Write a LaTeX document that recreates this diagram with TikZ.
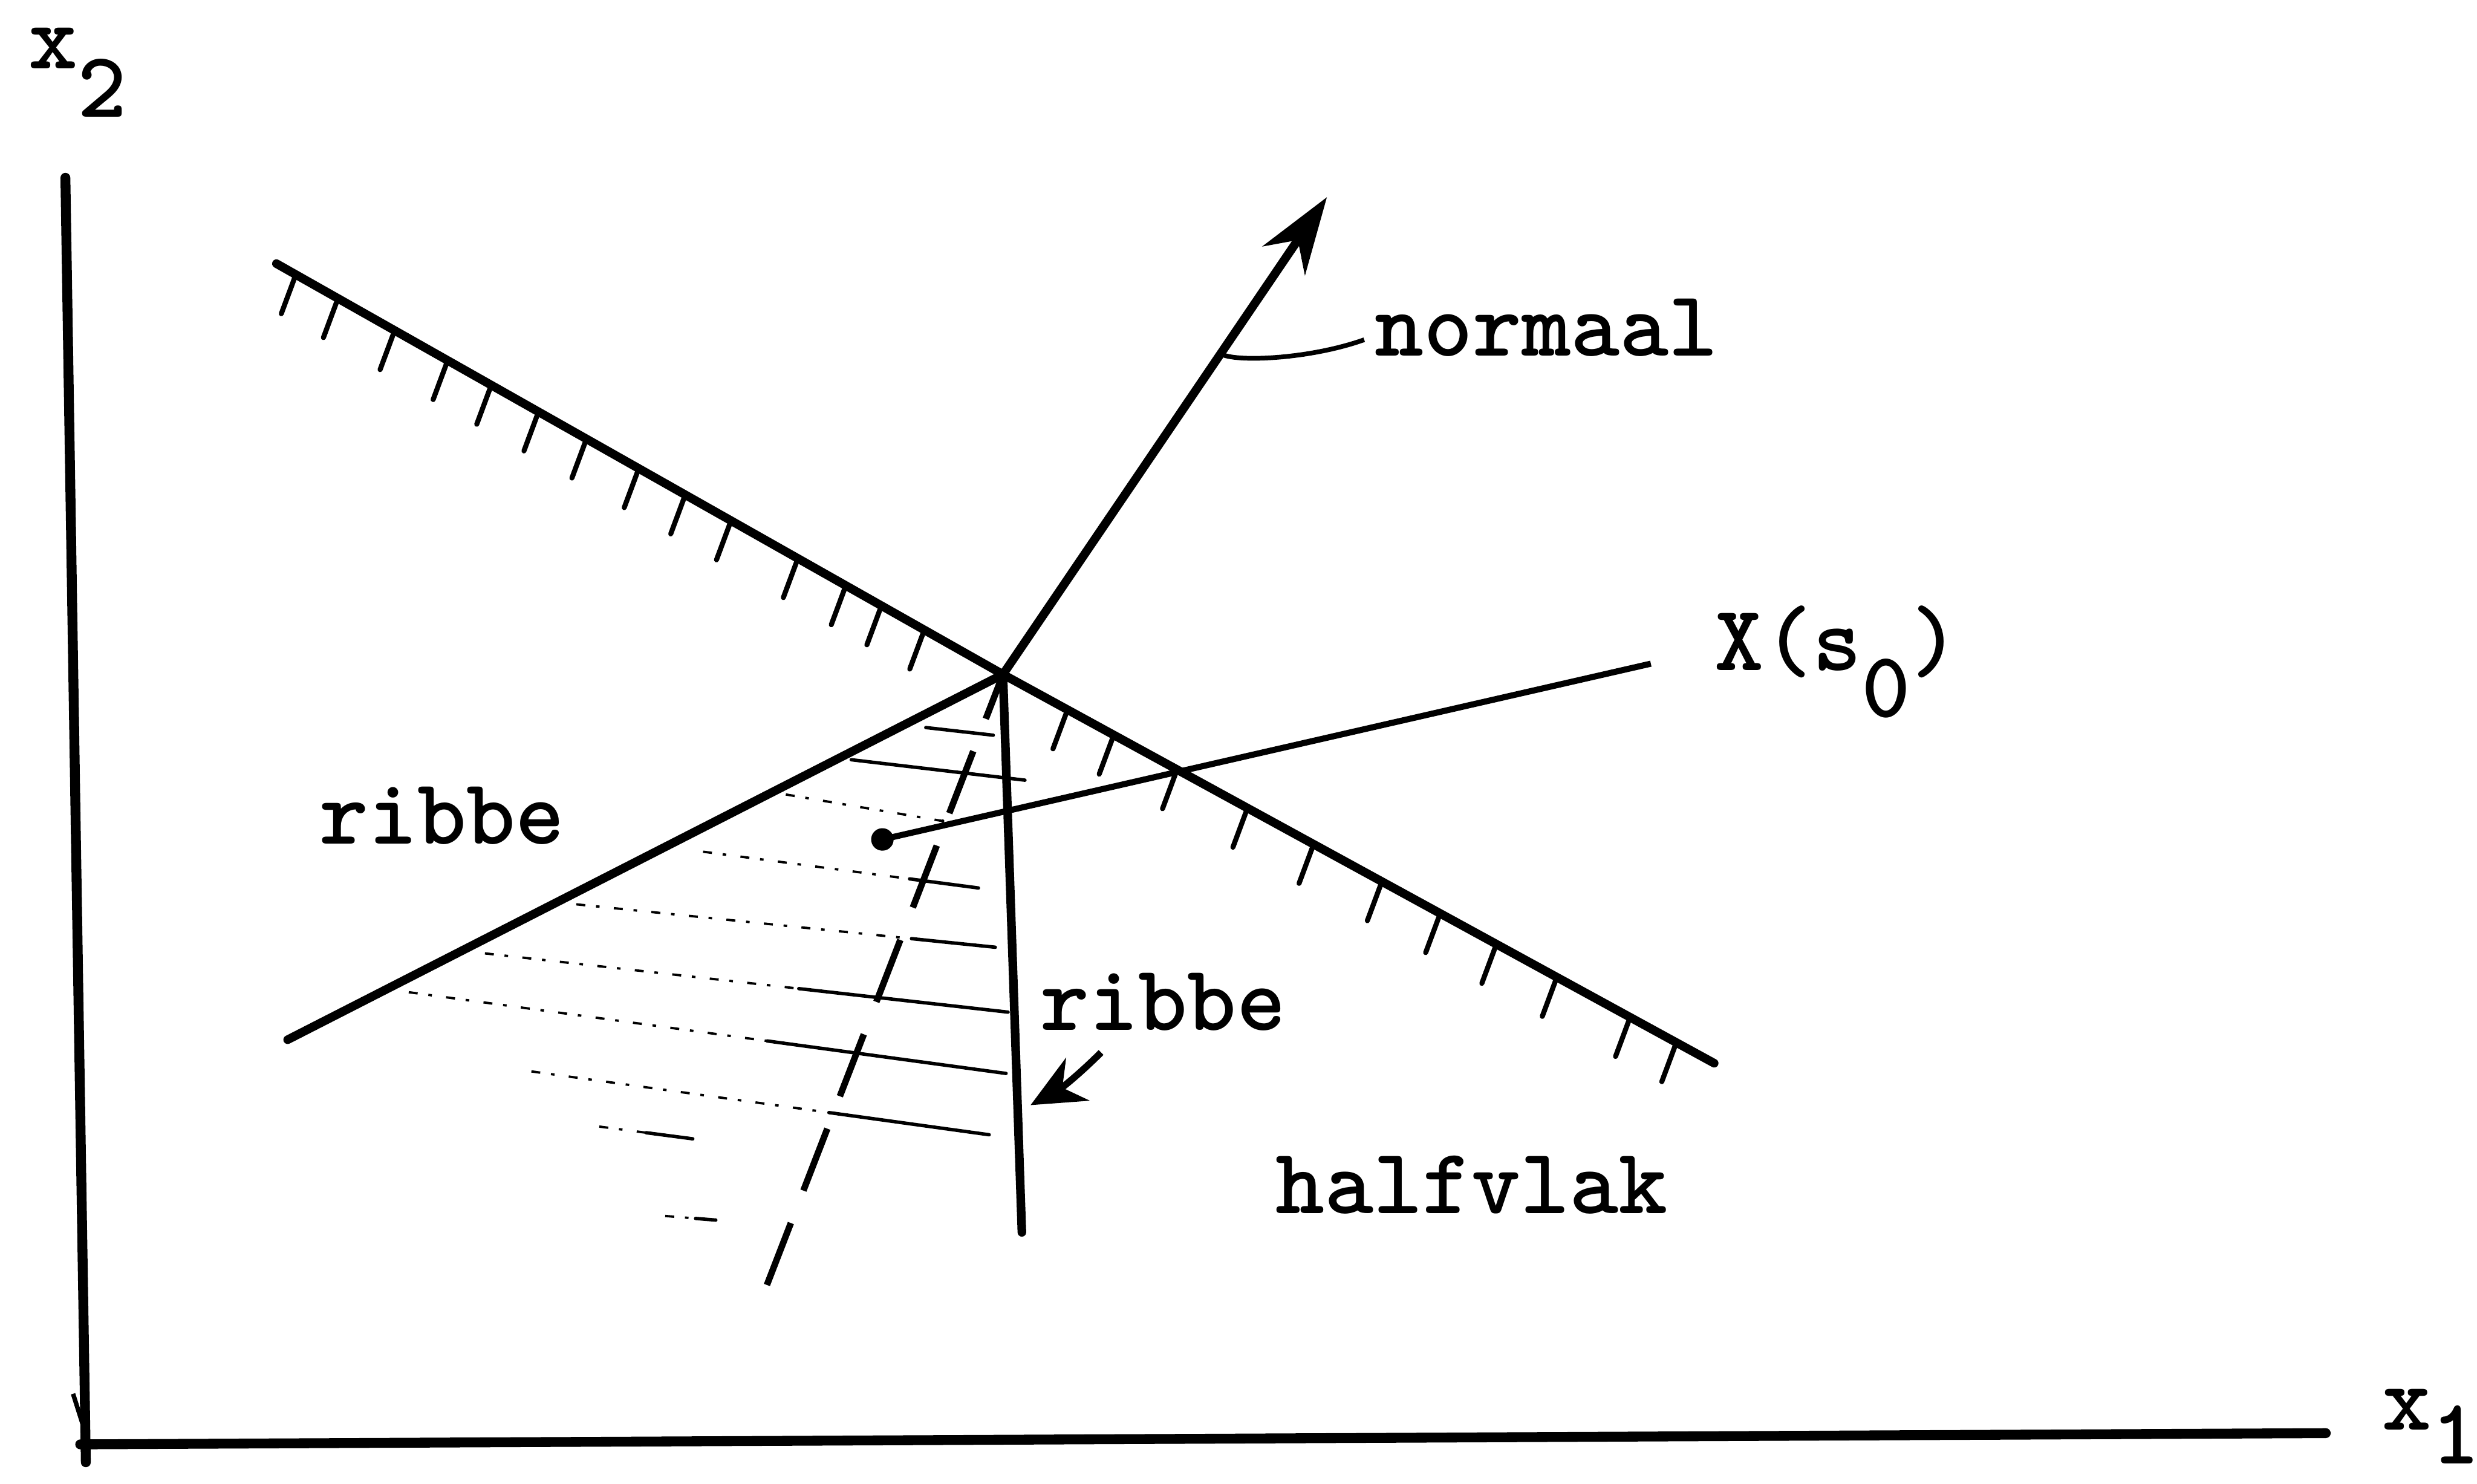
\documentclass[tikz,border=0pt]{standalone}
\usetikzlibrary{arrows.meta,calc}

\begin{document}
\begin{tikzpicture}[
  lbl/.style={font=\fontsize{52}{62}\selectfont\ttfamily\bfseries, inner sep=0pt, anchor=base west},
  axis/.style={line width=5.5pt, line cap=round},
  edge/.style={line width=4.8pt, line cap=round},
  hatch/.style={line width=2.8pt, line cap=round},
  shade/.style={line width=1.3pt, dash pattern=on 5pt off 6pt on 2pt off 8pt},
  shadesolid/.style={line width=1.9pt, line cap=round}]
  \useasboundingbox (0,0) rectangle (48.48,29.04);
  % axes
  \draw[axis] (1.28,25.56) -- (1.68,0.42);
  \draw[axis] (1.57,0.77) -- (45.52,0.99);
  \draw[line width=2.5pt] (1.43,1.76) -- (1.62,1.16);
  \node[lbl] (xtwo) at (0.55,27.7) {x\raisebox{-0.52em}{2}};
  \node[lbl] (xone) at (46.62,1.05) {x\raisebox{-0.36em}{1}};
  % corner point and lines
  \coordinate (V) at (19.63,15.84);
  \coordinate (A) at (5.41,23.88);
  \coordinate (B) at (33.55,8.23);
  \coordinate (N) at (25.97,25.18);
  \coordinate (L) at (5.63,8.69);
  \coordinate (R) at (20.00,4.92);
  \coordinate (S) at (15.01,3.89);
  \coordinate (D) at (17.27,12.61);
  \coordinate (E) at (32.31,16.05);
  % shaded region
  \foreach \xa/\ya/\xb/\yb/\f in {18.12/14.80/19.44/14.65/0, 16.66/14.17/20.06/13.77/0,
      15.38/13.49/18.45/12.97/1, 13.76/12.37/19.15/11.66/0.75, 11.28/11.34/19.48/10.50/0.8,
      9.49/10.38/19.73/9.23/0.6, 8.00/9.62/19.69/8.03/0.6, 10.40/8.07/19.36/6.83/0.65,
      11.73/6.99/13.56/6.75/0.5, 13.02/5.24/14.01/5.16/0.6}{
    \draw[shade] (\xa,\ya) -- (\xb,\yb);
    \draw[shadesolid] ($(\xa,\ya)!\f!(\xb,\yb)$) -- (\xb,\yb);
  }
  \draw[edge] (A) -- (V) -- (B);
  \foreach \f in {0.025,0.083,0.161,0.234,0.294,0.359,0.425,0.497,0.561,0.624,0.716,0.782,0.831,0.89}
    \draw[hatch] ($(A)!\f!(V)+(0,-0.08)$) -- ++(-0.26,-0.7);
  \foreach \f in {0.089,0.154,0.243,0.342,0.435,0.531,0.613,0.692,0.777,0.880,0.945}
    \draw[hatch] ($(V)!\f!(B)+(0,-0.08)$) -- ++(-0.26,-0.7);
  \draw[edge] (V) -- (L);
  \draw[edge] (V) -- (R);
  \draw[line width=3.6pt, dash pattern=on 1.3cm off 0.68cm] (S) -- (V);
  \draw[edge, -{Stealth[length=1.5cm,width=1.0cm]}] (V) -- (N);
  \fill (D) circle (0.22);
  \draw[line width=3.4pt] (D) -- (E);
  % labels
  \node[lbl] (normaal) at (26.9,22.07) {normaal};
  \coordinate (pn) at ($(V)!0.672!(N)$);
  \coordinate (pe) at (26.70,22.39);
  \draw[line width=2.6pt] (pn) .. controls (24.15,21.95) and (25.6,22.0) .. (pe);
  \node[lbl] (xs) at (33.55,15.92) {X(s\raisebox{-0.5em}{0})};
  \node[lbl] (ribbeL) at (6.25,12.52) {ribbe};
  \node[lbl] (ribbeR) at (20.36,8.88) {ribbe};
  \coordinate (ra) at (21.55,8.44);
  \coordinate (rt) at (20.17,7.41);
  \draw[line width=3.8pt, -{Stealth[length=1.05cm,width=0.95cm]}] (ra) to[bend left=8] (rt);
  \node[lbl] (halfvlak) at (24.96,5.29) {halfvlak};
\end{tikzpicture}
\end{document}
